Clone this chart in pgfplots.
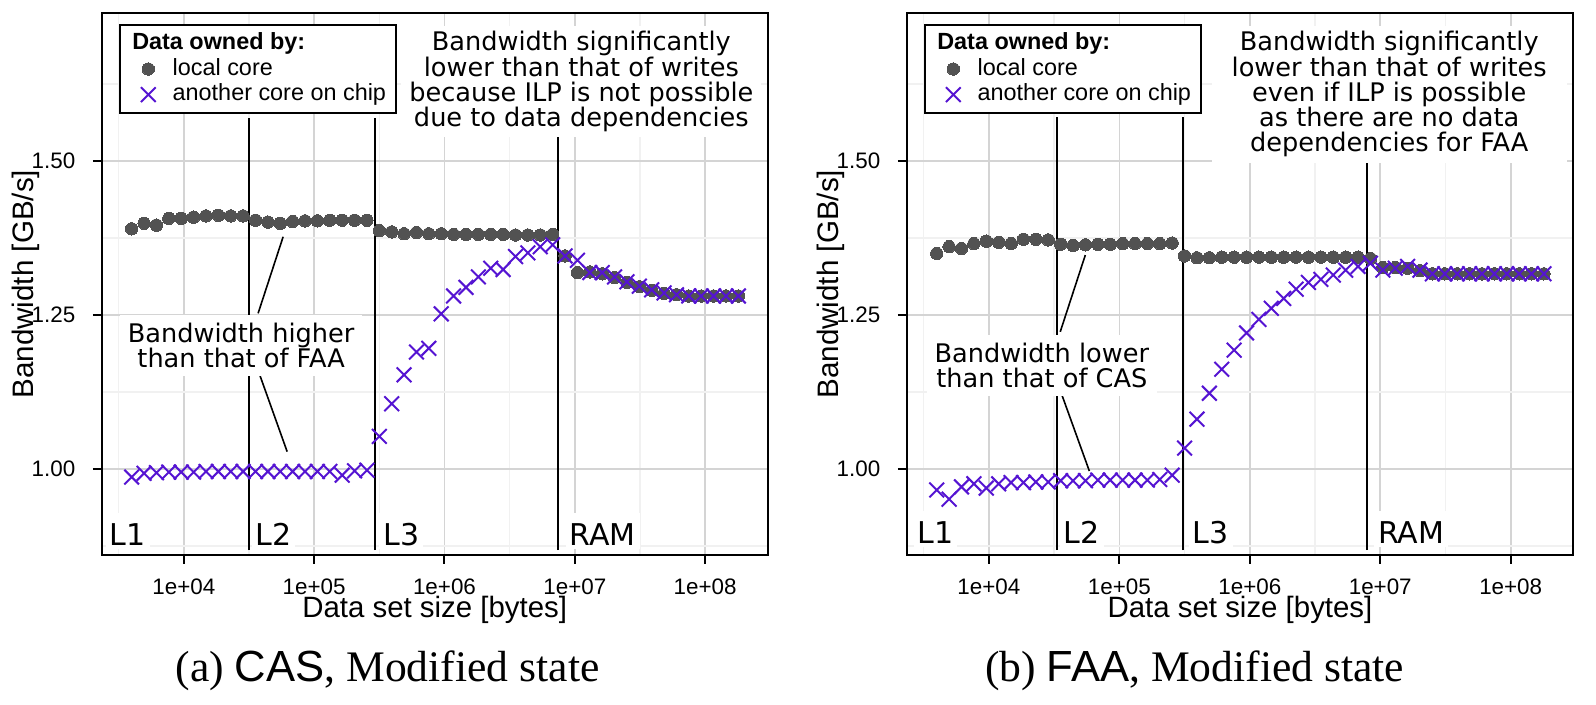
\documentclass[border=0pt]{standalone}
\usepackage{fontspec}
\setmainfont{Liberation Serif}
\newfontfamily\arialf{Liberation Sans}
\newfontfamily\dejavu{DejaVu Sans}
\usepackage{pgfplots}
\usepackage{pgfplotstable}
\pgfplotsset{compat=1.18}

\definecolor{localc}{RGB}{82,82,82}
\definecolor{remotec}{RGB}{85,20,210}
\definecolor{gridmaj}{RGB}{212,212,212}
\definecolor{gridmin}{RGB}{241,241,241}

% CAS, Modified state
\pgfplotstableread{
x local remote
3981 1.390 0.987
4955 1.399 0.993
6166 1.396 0.994
7674 1.407 0.995
9550 1.407 0.995
11885 1.409 0.995
14791 1.411 0.996
18408 1.412 0.996
22909 1.411 0.996
28510 1.411 0.996
35481 1.404 0.996
44157 1.401 0.996
54954 1.399 0.996
68391 1.402 0.996
85114 1.403 0.996
105925 1.403 0.996
131826 1.404 0.996
164059 1.404 0.990
204174 1.404 0.997
254097 1.404 0.998
316228 1.387 1.053
393550 1.385 1.106
489779 1.382 1.153
609537 1.384 1.190
758578 1.382 1.196
944061 1.382 1.252
1174898 1.381 1.281
1462177 1.381 1.295
1819701 1.381 1.312
2264644 1.381 1.326
2818383 1.381 1.324
3507519 1.380 1.345
4365158 1.380 1.351
5432503 1.380 1.361
6760830 1.381 1.364
8413951 1.346 1.346
10471285 1.319 1.339
13031668 1.320 1.319
16218101 1.317 1.319
20183664 1.311 1.312
25118864 1.303 1.304
31260794 1.296 1.297
38904514 1.290 1.291
48417237 1.285 1.286
60255959 1.283 1.283
74989421 1.281 1.281
93325430 1.281 1.281
116144861 1.281 1.281
144543977 1.281 1.281
179887092 1.281 1.281
}\casdata

% FAA, Modified state
\pgfplotstableread{
x local remote
3981 1.350 0.966
4955 1.361 0.951
6166 1.358 0.971
7674 1.366 0.976
9550 1.370 0.969
11885 1.368 0.976
14791 1.366 0.978
18408 1.373 0.978
22909 1.373 0.979
28510 1.372 0.979
35481 1.365 0.981
44157 1.363 0.981
54954 1.364 0.981
68391 1.365 0.982
85114 1.365 0.982
105925 1.366 0.982
131826 1.366 0.982
164059 1.366 0.982
204174 1.366 0.983
254097 1.367 0.990
316228 1.346 1.034
393550 1.343 1.081
489779 1.343 1.123
609537 1.344 1.162
758578 1.344 1.193
944061 1.344 1.221
1174898 1.344 1.243
1462177 1.344 1.261
1819701 1.344 1.277
2264644 1.344 1.292
2818383 1.344 1.303
3507519 1.344 1.308
4365158 1.344 1.315
5432503 1.344 1.323
6760830 1.344 1.329
8413951 1.342 1.334
10471285 1.327 1.323
13031668 1.327 1.326
16218101 1.326 1.329
20183664 1.322 1.323
25118864 1.317 1.317
31260794 1.317 1.317
38904514 1.317 1.317
48417237 1.317 1.317
60255959 1.317 1.317
74989421 1.317 1.317
93325430 1.317 1.317
116144861 1.317 1.317
144543977 1.317 1.317
179887092 1.317 1.317
}\faadata

\pgfplotsset{
  localplot/.style={only marks, color=localc, mark=*, mark size=1.55pt,
    mark options={fill=localc, draw=localc, line width=0pt}},
  remoteplot/.style={only marks, color=remotec, mark=x, mark size=2.6pt,
    mark options={draw=remotec, line width=0.5pt}},
  vline/.style={black, line width=0.4pt, forget plot},
}
\tikzset{
  annot/.style={font=\dejavu\fontsize{6.4}{6.3}\selectfont, align=center, fill=white},
  cachelab/.style={font=\dejavu\fontsize{7.5}{8}\selectfont, fill=white, anchor=base west,
    inner xsep=1pt, inner ysep=1pt, text height=7pt, xshift=-1pt},
}

\begin{document}
\begin{tikzpicture}
\path[use as bounding box] (0,0) rectangle (399pt,-176.25pt);

\begin{axis}[
    at={(25.425pt,-138.75pt)}, anchor=south west,
    scale only axis, width=166.5pt, height=135.4pt,
    xmode=log, xmin=2344, xmax=3.02e8, ymin=0.8604, ymax=1.7398,
    xtick={1e4,1e5,1e6,1e7,1e8},
    xticklabels={1e+04,1e+05,1e+06,1e+07,1e+08},
    ytick={1,1.25,1.5}, yticklabels={1.00,1.25,1.50},
    minor xtick={3162.28,31622.8,316228,3162278,31622777},
    minor ytick={0.875,1.125,1.375,1.625},
    grid=both,
    major grid style={gridmaj, line width=0.4pt},
    minor grid style={gridmin, line width=0.4pt},
    minor tick length=0pt, major tick length=2.2pt, tick align=outside,
    tick pos=left,
    tick style={black, line width=0.5pt},
    axis line style={black, line width=0.5pt},
    ticklabel style={font=\arialf\fontsize{5.6}{6}\selectfont, inner sep=0pt},
    xticklabel style={anchor=base, yshift=-7.75pt},
    yticklabel style={anchor=east, xshift=-4.2pt},
    xlabel={Data set size [bytes]}, ylabel={Bandwidth [GB/s]},
    xlabel style={font=\arialf\fontsize{7.35}{8}\selectfont, inner sep=0pt,
      at={(axis description cs:0.5,-0.1155)}, anchor=base},
    ylabel style={font=\arialf\fontsize{7.4}{8}\selectfont, inner sep=0pt,
      at={(axis description cs:-0.1027,0.5)}, anchor=base},
    clip=false,
    legend cell align=left,
    legend style={at={(axis description cs:0,1)}, anchor=north west,
      xshift=4.3pt, yshift=-2.7pt, draw=black, line width=0.5pt, fill=white,
      inner xsep=2.6pt, inner ysep=1.7pt, column sep=1.6pt, row sep=0.7pt,
      font=\arialf\fontsize{5.85}{6.2}\selectfont,
      nodes={inner sep=0pt, text height=4.4pt, text depth=1.3pt}},
    legend image code/.code={\path[draw=none] (0pt,0pt) -- (9pt,0pt);
      \draw[mark repeat=2,mark phase=2,#1] plot coordinates {(0pt,0pt) (4.5pt,0pt) (9pt,0pt)};},
]
\addlegendimage{empty legend}
\addlegendentry{\hspace*{-10.1pt}\textbf{Data owned by:}}
\addplot[localplot] table[x=x, y=local] {\casdata};
\addlegendentry{local core}
\addplot[remoteplot] table[x=x, y=remote] {\casdata};
\addlegendentry{another core on chip}
\addplot[vline] coordinates {(31477,0.8685) (31477,1.5698)};
\addplot[vline] coordinates {(294442,0.8685) (294442,1.5698)};
\addplot[vline] coordinates {(7430000,0.8685) (7430000,1.5406)};
\addplot[vline] coordinates {(37154,1.2528) (57810,1.3771)};
\addplot[vline] coordinates {(38282,1.1526) (62087,1.0282)};
\node[annot, anchor=north, inner xsep=2pt, inner ysep=1.4pt] at (axis cs:1.1226e7,1.7208)
  {Bandwidth significantly\\lower than that of writes\\because ILP is not possible\\due to data dependencies};
\node[annot, inner xsep=2pt, inner ysep=2pt] at (axis cs:27542,1.2005)
  {Bandwidth higher\\than that of FAA};
\node[cachelab] at (axis cs:2673,0.8766) {L1};
\node[cachelab] at (axis cs:35075,0.8766) {L2};
\node[cachelab] at (axis cs:334965,0.8766) {L3};
\node[cachelab] at (axis cs:9016000,0.8766) {RAM};
\end{axis}

\begin{axis}[
    at={(226.675pt,-138.75pt)}, anchor=south west,
    scale only axis, width=166.65pt, height=135.4pt,
    xmode=log, xmin=2344, xmax=3.02e8, ymin=0.8604, ymax=1.7398,
    xtick={1e4,1e5,1e6,1e7,1e8},
    xticklabels={1e+04,1e+05,1e+06,1e+07,1e+08},
    ytick={1,1.25,1.5}, yticklabels={1.00,1.25,1.50},
    minor xtick={3162.28,31622.8,316228,3162278,31622777},
    minor ytick={0.875,1.125,1.375,1.625},
    grid=both,
    major grid style={gridmaj, line width=0.4pt},
    minor grid style={gridmin, line width=0.4pt},
    minor tick length=0pt, major tick length=2.2pt, tick align=outside,
    tick pos=left,
    tick style={black, line width=0.5pt},
    axis line style={black, line width=0.5pt},
    ticklabel style={font=\arialf\fontsize{5.6}{6}\selectfont, inner sep=0pt},
    xticklabel style={anchor=base, yshift=-7.75pt},
    yticklabel style={anchor=east, xshift=-4.2pt},
    xlabel={Data set size [bytes]}, ylabel={Bandwidth [GB/s]},
    xlabel style={font=\arialf\fontsize{7.35}{8}\selectfont, inner sep=0pt,
      at={(axis description cs:0.5,-0.1155)}, anchor=base},
    ylabel style={font=\arialf\fontsize{7.4}{8}\selectfont, inner sep=0pt,
      at={(axis description cs:-0.1027,0.5)}, anchor=base},
    clip=false,
    legend cell align=left,
    legend style={at={(axis description cs:0,1)}, anchor=north west,
      xshift=4.3pt, yshift=-2.7pt, draw=black, line width=0.5pt, fill=white,
      inner xsep=2.6pt, inner ysep=1.7pt, column sep=1.6pt, row sep=0.7pt,
      font=\arialf\fontsize{5.85}{6.2}\selectfont,
      nodes={inner sep=0pt, text height=4.4pt, text depth=1.3pt}},
    legend image code/.code={\path[draw=none] (0pt,0pt) -- (9pt,0pt);
      \draw[mark repeat=2,mark phase=2,#1] plot coordinates {(0pt,0pt) (4.5pt,0pt) (9pt,0pt)};},
]
\addlegendimage{empty legend}
\addlegendentry{\hspace*{-10.1pt}\textbf{Data owned by:}}
\addplot[localplot] table[x=x, y=local] {\faadata};
\addlegendentry{local core}
\addplot[remoteplot] table[x=x, y=remote] {\faadata};
\addlegendentry{another core on chip}
\addplot[vline] coordinates {(33266,0.8685) (33266,1.5719)};
\addplot[vline] coordinates {(308319,0.8685) (308319,1.5719)};
\addplot[vline] coordinates {(7906786,0.8685) (7906786,1.4968)};
\addplot[vline] coordinates {(35237,1.2229) (54828,1.3474)};
\addplot[vline] coordinates {(36308,1.1201) (58884,0.9968)};
\node[annot, anchor=north, inner xsep=5pt, inner ysep=1.4pt] at (axis cs:1.172e7,1.7208)
  {Bandwidth significantly\\lower than that of writes\\even if ILP is possible\\as there are no data\\dependencies for FAA};
\node[annot, inner xsep=2pt, inner ysep=2pt] at (axis cs:25468,1.1688)
  {Bandwidth lower\\than that of CAS};
\node[cachelab] at (axis cs:2799,0.8795) {L1};
\node[cachelab] at (axis cs:36983,0.8795) {L2};
\node[cachelab] at (axis cs:361410,0.8795) {L3};
\node[cachelab] at (axis cs:9506000,0.8795) {RAM};
\end{axis}

\node[font=\fontsize{10.9}{12}\selectfont, anchor=base] at (96.9pt,-170.4pt)
  {(a) {\arialf CAS}, Modified state};
\node[font=\fontsize{10.9}{12}\selectfont, anchor=base] at (298.65pt,-170.4pt)
  {(b) {\arialf FAA}, Modified state};
\end{tikzpicture}
\end{document}
